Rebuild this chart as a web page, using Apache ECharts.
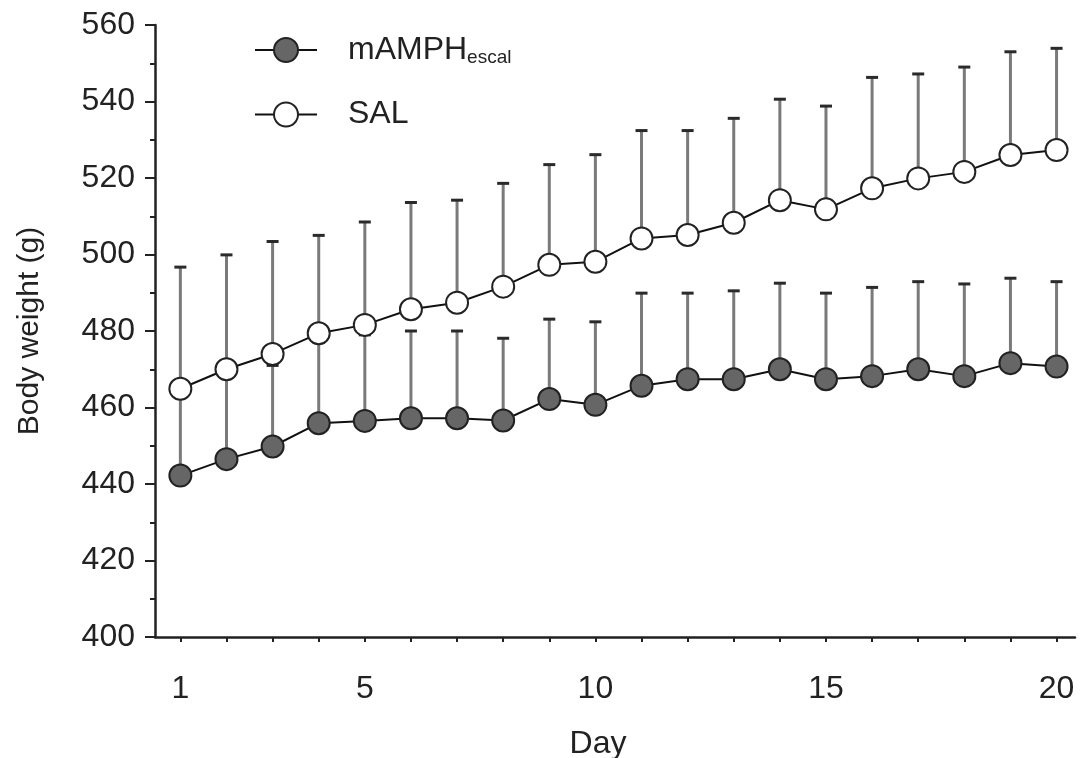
<!DOCTYPE html>
<html>
<head>
<meta charset="utf-8">
<script src="https://cdn.jsdelivr.net/npm/echarts@6/dist/echarts.min.js"></script>
<style>
  html, body { margin: 0; padding: 0; background: #fff; }
  #chart { width: 1087px; height: 758px; }
</style>
</head>
<body>
<div id="chart"></div>
<script>
// days and tick labels
const days = [1,2,3,4,5,6,7,8,9,10,11,12,13,14,15,16,17,18,19,20]
const dayLabels = [1, 5, 10, 15, 20]

// mAMPH escal group: mean body weight and SEM (upper bar only)
const amphMean = [442.2, 446.5, 449.8, 455.9, 456.5, 457.2, 457.2, 456.6, 462.2, 460.7,
                  465.7, 467.4, 467.4, 470.0, 467.4, 468.2, 470.0, 468.2, 471.6, 470.7]
const amphSem = [21.8, 21.5, 21.2, 21.1, 22.5, 22.8, 22.8, 21.5, 20.9, 21.7,
                 24.2, 22.5, 23.1, 22.5, 22.5, 23.2, 22.9, 24.1, 22.2, 22.2]

// saline group
const salMean = [464.9, 470.0, 474.0, 479.4, 481.6, 485.7, 487.4, 491.6, 497.3, 498.1,
                 504.2, 505.1, 508.3, 514.2, 511.8, 517.3, 519.9, 521.6, 526.0, 527.3]
const salSem = [31.8, 29.9, 29.4, 25.6, 26.9, 27.9, 26.8, 27.0, 26.2, 28.0,
                28.2, 27.3, 27.3, 26.4, 27.0, 29.0, 27.3, 27.4, 27.0, 26.6]

const font = 'Liberation Sans, Arial, sans-serif'

// upper error bar: line from mean up to mean+sem, with short cap
const errorBars = (mean, sem) => ({
    type: 'custom',
    z: 1,
    silent: true,
    data: days.map((d, i) => [d, mean[i], mean[i] + sem[i]]),
    renderItem: (params, api) => {
        const p0 = api.coord([api.value(0), api.value(1)])
        const p1 = api.coord([api.value(0), api.value(2)])
        return {
            type: 'group',
            children: [
                {
                    type: 'line',
                    shape: { x1: p0[0], y1: p0[1], x2: p1[0], y2: p1[1] },
                    style: { stroke: '#7a7a7a', lineWidth: 3 }
                },
                {
                    type: 'line',
                    shape: { x1: p1[0] - 6, y1: p1[1], x2: p1[0] + 6, y2: p1[1] },
                    style: { stroke: '#2a2a2a', lineWidth: 3 }
                }
            ]
        }
    }
})

const chart = echarts.init(document.getElementById('chart'))
const option = {
    animation: false,
    backgroundColor: '#fff',
    legend: {
        orient: 'vertical',
        left: 249,
        top: 29,
        itemWidth: 62,
        itemHeight: 30,
        itemGap: 31,
        data: ['mAMPH', 'SAL'],
        formatter: (name) => name === 'mAMPH' ? '{a|mAMPH}{b|escal}' : '{a|SAL}',
        textStyle: {
            padding: [0, 0, 0, 26],
            rich: {
                a: { fontFamily: font, fontSize: 32, color: '#222' },
                b: { fontFamily: font, fontSize: 19, color: '#222', padding: [16, 0, 0, 0] }
            }
        }
    },
    grid: { left: 155, right: 12, top: 25, bottom: 121, outerBoundsMode: 'none' },
    xAxis: {
        type: 'value',
        min: 0.45,
        max: 20.4,
        name: 'Day',
        nameLocation: 'middle',
        nameGap: 91,
        nameTextStyle: { fontFamily: font, fontSize: 32, color: '#222', padding: [0, 34, 0, 0] },
        axisLine: { lineStyle: { color: '#222', width: 2.5 } },
        axisTick: { show: true, length: 5, customValues: days, lineStyle: { color: '#222', width: 2 } },
        axisLabel: { customValues: dayLabels, margin: 36, fontFamily: font, fontSize: 32, color: '#222' },
        splitLine: { show: false }
    },
    yAxis: {
        type: 'value',
        min: 400,
        max: 560,
        interval: 20,
        name: 'Body weight (g)',
        nameLocation: 'middle',
        nameGap: 110,
        nameTextStyle: { fontFamily: font, fontSize: 30, color: '#222' },
        axisLine: { show: true, lineStyle: { color: '#222', width: 2.5 } },
        axisTick: { show: true, length: 10, lineStyle: { color: '#222', width: 2 } },
        minorTick: { show: true, splitNumber: 2, length: 5, lineStyle: { color: '#222', width: 2 } },
        axisLabel: { margin: 20, fontFamily: font, fontSize: 32, color: '#222' },
        splitLine: { show: false }
    },
    series: [
        errorBars(salMean, salSem),
        errorBars(amphMean, amphSem),
        {
            name: 'SAL',
            type: 'line',
            z: 3,
            data: days.map((d, i) => [d, salMean[i]]),
            symbol: 'circle',
            symbolSize: 22,
            lineStyle: { color: '#111', width: 2 },
            itemStyle: { color: '#fff', borderColor: '#222', borderWidth: 2 }
        },
        {
            name: 'mAMPH',
            type: 'line',
            z: 3,
            data: days.map((d, i) => [d, amphMean[i]]),
            symbol: 'circle',
            symbolSize: 22,
            lineStyle: { color: '#111', width: 2 },
            itemStyle: { color: '#666', borderColor: '#222', borderWidth: 2 }
        }
    ]
}
chart.setOption(option)
</script>
</body>
</html>
